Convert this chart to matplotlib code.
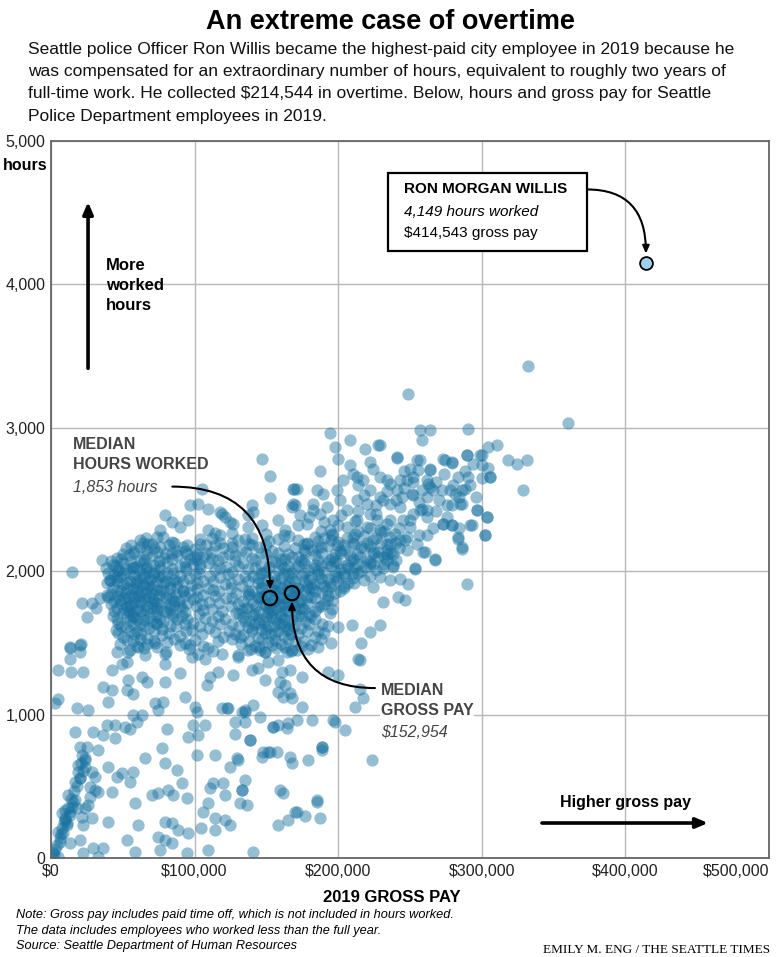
import numpy as np
import matplotlib
matplotlib.use("Agg")
import matplotlib.pyplot as plt
from matplotlib.ticker import FuncFormatter

plt.rcParams['font.family'] = ['Liberation Sans', 'DejaVu Sans']

# points: (gross pay in $ thousands, hours worked)
sparse_low = [
    (13.2, 1461), (20.9, 1491), (20.2, 1438), (13.2, 1391), (5.1, 1310), (13.9, 1298), (22.5, 1298),
    (5.1, 1112), (2.8, 1078), (17.8, 1043), (26.0, 1031), (36.4, 1194), (42.2, 1171), (39.9, 1089),
    (52.6, 1171), (53.8, 1240), (57.3, 1147), (63.1, 1263), (66.6, 1229), (42.2, 1310), (45.7, 1438),
    (52.6, 1368), (60.8, 1473), (65.4, 1414), (72.4, 1496), (79.3, 1426), (79.3, 1356), (89.8, 1287),
    (79.3, 1229), (93.2, 1124), (78.2, 1089), (72.4, 1078), (74.7, 1031), (100.2, 1054), (101.4, 1020),
    (93.2, 1500), (102.5, 1426), (109.5, 1461), (118.8, 1426), (130.4, 1414), (110.6, 1263), (116.4, 1298),
    (126.9, 1275), (108.3, 1205), (118.8, 1043), (123.4, 1043), (132.7, 1020), (97.9, 1403), (107.2, 1391),
    (53.8, 1438), (49.2, 1356),
    (16.7, 880), (29.4, 880), (36.4, 857), (44.5, 834), (38.7, 927), (44.5, 927), (51.5, 915), (57.3, 996),
    (59.6, 950), (55.0, 903), (63.1, 996), (32.9, 752), (20.2, 776), (24.8, 776), (21.3, 718), (23.6, 683),
    (19.0, 648), (23.6, 636), (20.2, 555), (28.3, 601), (30.6, 567), (39.9, 636), (45.7, 567), (49.2, 590),
    (57.3, 601), (55.0, 532), (30.6, 474), (32.9, 462), (42.2, 462), (27.1, 497), (27.1, 427), (12.0, 439),
    (16.7, 404), (13.2, 323), (9.7, 265), (10.9, 241), (8.6, 172), (5.1, 183), (6.2, 114), (1.6, 44),
    (5.1, 9), (13.2, 102), (20.2, 125), (21.3, 288), (28.3, 276), (22.5, 230), (39.9, 253), (60.8, 230),
    (52.6, 125), (58.4, 44), (29.4, 67), (36.4, 67), (22.5, 32), (32.9, 9), (65.4, 694), (77.0, 764),
    (79.3, 660), (80.5, 903), (87.4, 613), (90.9, 520), (81.6, 474), (70.0, 439), (74.7, 450), (85.1, 439),
    (94.4, 416), (58.4, 381), (79.3, 253), (84.0, 241), (74.7, 148), (79.3, 125), (84.0, 102), (75.8, 55),
    (88.6, 195), (95.6, 172), (94.4, 32), (101.4, 718), (95.6, 845), (102.5, 857), (107.2, 927), (99.0, 927),
    (114.1, 718), (113.0, 520), (110.6, 485), (119.9, 520), (121.1, 439), (106.0, 323), (109.5, 381),
    (114.1, 276), (121.1, 265), (124.6, 230), (114.1, 195), (104.8, 207), (109.5, 55), (128.1, 868),
    (124.6, 636), (129.2, 694), (132.7, 474), (131.5, 381), (135.0, 1031), (135.0, 950), (135.0, 543),
    (23.6, 346), (17.8, 346), (26.0, 369), (14.4, 357), (9.7, 334), (7.4, 311),
    (3, 60), (6, 140), (8, 210), (10, 280), (12, 350), (14, 410), (16, 470), (17, 530), (19, 600),
    (11, 230), (13, 300), (15, 390), (18, 500), (7, 170), (4, 90), (9, 250), (22, 610), (20, 560),
    (24, 700), (21, 660), (1, 15), (2, 30),
]

sparse_mid = [
    (131.6, 1543), (137.4, 1450), (130.4, 1403), (145.5, 1450), (149.0, 1438), (151.3, 1368), (158.3, 1380),
    (164.1, 1438), (167.6, 1450), (171.0, 1450), (139.7, 1310), (144.3, 1322), (149.0, 1240), (160.6, 1299),
    (166.4, 1310), (174.5, 1264), (159.4, 1229), (162.9, 1206), (166.4, 1148), (167.6, 1113), (158.3, 1159),
    (161.8, 1124), (140.9, 1066), (135.1, 1020), (145.5, 985), (128.1, 950), (154.8, 915), (158.3, 927),
    (165.2, 939), (164.1, 904), (171.0, 962), (181.5, 962), (174.5, 1055), (197.7, 950), (204.7, 892),
    (193.1, 1299), (200.0, 1275), (211.7, 1055), (217.5, 1113), (215.1, 1182), (215.1, 1380), (214.0, 1391),
    (215.8, 1496), (209.3, 1624), (222.1, 1577), (229.1, 1624), (138.5, 822), (147.8, 741), (146.7, 706),
    (151.3, 741), (157.1, 741), (166.4, 706), (167.6, 660), (179.2, 683), (188.4, 776), (188.4, 753),
    (223.3, 683), (130.4, 683), (132.7, 474), (136.2, 369), (159.4, 474), (161.8, 451), (185.0, 404),
    (169.9, 323), (165.2, 265), (158.3, 230), (176.8, 293), (187.3, 276), (140.9, 44), (171, 321),
    (185, 390), (152.5, 739), (188.7, 774), (154.6, 913), (196.4, 962), (138.6, 822), (122.6, 1045),
]

fringe = [
    (14.6, 1993), (35.5, 2077), (21.6, 1777), (28.6, 1777), (34, 1812), (25, 1679), (13.2, 1470),
    (20.2, 1484), (46.7, 2007), (57, 2021), (41, 1937), (46, 1958), (38.8, 1833), (31, 1740),
    (62, 2169), (67.8, 2193), (75.9, 2286), (79.4, 2390), (84, 2344), (89.8, 2309), (95.6, 2355),
    (96.8, 2460), (102.6, 2472), (109.6, 2437), (117.7, 2413), (121.2, 2379), (124.7, 2344), (109.6, 2286),
    (114.2, 2263), (125.8, 2263), (135.1, 2228), (137.4, 2309), (146.7, 2321), (152.5, 2507), (139.8, 2460),
    (140.9, 2413), (158.3, 2355), (163, 2286), (169.9, 2460), (171.1, 2576), (104.9, 2576), (146.7, 2785),
    (152.5, 2662), (168.7, 2576), (167.6, 2448), (137.4, 2390), (118.9, 2401), (127, 2332),
]

core = [
    (62, 2215), (70, 2190), (84, 2205), (95, 2185), (112, 2230), (126, 2195), (152, 2210), (166, 2245),
    (178, 2190), (190, 2230), (200, 2205), (212, 2260), (224, 2215), (236, 2240),
    (52, 2160), (58, 2130), (66, 2150), (76, 2170), (88, 2140), (100, 2155), (108, 2125), (120, 2160),
    (132, 2140), (145, 2170), (158, 2130), (170, 2165), (182, 2145), (193, 2175), (205, 2150), (216, 2170),
    (228, 2135), (242, 2160),
    (46, 2090), (54, 2110), (62, 2080), (70, 2105), (79, 2095), (88, 2115), (97, 2085), (106, 2100),
    (116, 2075), (128, 2110), (140, 2090), (150, 2120), (160, 2085), (172, 2100), (184, 2115), (196, 2090),
    (208, 2110), (220, 2080), (232, 2100),
    (43, 2040), (50, 2060), (57, 2030), (64, 2055), (72, 2045), (81, 2065), (90, 2035), (99, 2050),
    (110, 2060), (122, 2030), (134, 2055), (146, 2040), (156, 2065), (165, 2035), (176, 2055), (188, 2045),
    (200, 2060), (211, 2030), (224, 2050), (238, 2040),
    (40, 1990), (47, 2010), (54, 1985), (61, 2005), (68, 1995), (76, 2015), (85, 1990), (94, 2005),
    (103, 1985), (114, 2010), (126, 1995), (137, 2015), (148, 1990), (158, 2005), (168, 1985), (179, 2010),
    (190, 1995), (202, 2015), (214, 1990), (226, 2005),
    (41, 1940), (48, 1960), (55, 1935), (62, 1955), (69, 1945), (77, 1965), (86, 1940), (96, 1955),
    (106, 1935), (118, 1960), (130, 1945), (141, 1965), (151, 1940), (160, 1955), (170, 1935), (181, 1960),
    (193, 1945), (205, 1965), (218, 1940),
    (43, 1890), (50, 1910), (57, 1885), (64, 1905), (71, 1895), (79, 1915), (88, 1890), (98, 1905),
    (109, 1885), (121, 1910), (133, 1895), (144, 1915), (154, 1890), (163, 1905), (172, 1885), (183, 1910),
    (195, 1895), (207, 1915),
    (42, 1840), (49, 1860), (56, 1835), (63, 1855), (70, 1845), (78, 1865), (87, 1840), (96, 1855),
    (106, 1835), (117, 1860), (129, 1845), (140, 1865), (150, 1840), (158, 1855), (167, 1835), (177, 1860),
    (189, 1845), (201, 1865),
    (44, 1790), (51, 1810), (58, 1785), (65, 1805), (72, 1795), (80, 1815), (89, 1790), (99, 1805),
    (110, 1785), (122, 1810), (134, 1795), (145, 1815), (155, 1790), (164, 1805), (173, 1785), (184, 1810),
    (196, 1795),
    (46, 1740), (53, 1760), (60, 1735), (67, 1755), (74, 1745), (82, 1765), (91, 1740), (101, 1755),
    (112, 1735), (125, 1760), (137, 1745), (148, 1765), (157, 1740), (166, 1755), (176, 1735), (188, 1760),
    (43, 1690), (50, 1710), (57, 1685), (65, 1705), (73, 1695), (81, 1715), (91, 1690), (103, 1705),
    (116, 1685), (129, 1710), (141, 1695), (151, 1715), (160, 1690), (170, 1705), (181, 1685), (194, 1710),
    (47, 1640), (55, 1660), (62, 1635), (70, 1655), (78, 1645), (88, 1665), (99, 1640), (112, 1655),
    (126, 1635), (138, 1660), (148, 1645), (157, 1665), (166, 1640), (177, 1655), (189, 1635),
    (45, 1590), (52, 1610), (60, 1585), (68, 1605), (77, 1595), (87, 1615), (98, 1590), (110, 1605),
    (124, 1585), (137, 1610), (146, 1595), (155, 1615), (164, 1590), (174, 1605), (186, 1585), (200, 1610),
    (50, 1540), (58, 1560), (67, 1535), (77, 1555), (90, 1545), (105, 1565), (120, 1540), (134, 1555),
    (144, 1535), (153, 1560), (162, 1545), (172, 1565), (184, 1540),
    (48, 1495), (57, 1510), (67, 1490), (81, 1505), (97, 1485), (116, 1510), (132, 1495), (142, 1480),
    (151, 1505), (160, 1490), (170, 1510), (181, 1485), (195, 1500),
    (55, 1450), (65, 1465), (80, 1440), (96, 1455), (113, 1445), (139, 1460), (149, 1440), (157, 1465),
    (167, 1445), (179, 1460),
    # darker patches
    (58, 1820), (62, 1790), (66, 1850), (70, 1815), (74, 1780), (60, 1880), (68, 1900), (76, 1870),
    (82, 1840), (55, 1760), (63, 1725), (71, 1745), (79, 1720), (86, 1790), (57, 1680), (65, 1660),
    (73, 1640), (84, 1700), (90, 1760), (52, 1845), (64, 1960), (72, 1985), (80, 1935), (88, 1925),
    (59, 1920), (67, 2030), (75, 1960), (92, 1860), (48, 1800), (54, 1720),
    (148, 1830), (155, 1800), (162, 1770), (168, 1820), (152, 1740), (160, 1700), (170, 1760), (146, 1880),
    (156, 1860), (164, 1900), (172, 1880), (150, 1680), (158, 1640), (166, 1600), (174, 1690), (178, 1820),
    (180, 1940), (186, 2000), (192, 2060), (198, 2120), (204, 2180), (210, 2240), (185, 2160), (195, 2220),
    (206, 2040), (215, 2100), (220, 2200), (190, 1900), (200, 1960), (176, 2080), (182, 1880), (143, 1760),
    (138, 1840), (162, 1980), (170, 2020), (178, 2200), (188, 2280), (200, 2320), (212, 2350), (222, 2300),
]

core_fill = [
    (66, 2230), (78, 2240), (104, 2225), (118, 2250), (140, 2235), (158, 2225), (172, 2215), (184, 2240),
    (196, 2255), (206, 2230), (218, 2245), (230, 2270),
    (56, 2180), (64, 2195), (72, 2165), (82, 2185), (92, 2170), (104, 2190), (114, 2180), (126, 2170),
    (138, 2190), (150, 2180), (162, 2175), (176, 2190), (188, 2170), (199, 2185), (210, 2195), (222, 2175),
    (234, 2190),
    (50, 2120), (58, 2140), (66, 2115), (74, 2135), (84, 2125), (93, 2140), (102, 2120), (112, 2135),
    (124, 2120), (136, 2135), (146, 2125), (154, 2140), (165, 2120), (177, 2135), (189, 2125), (201, 2140),
    (213, 2120), (225, 2135), (236, 2125),
    (42, 2070), (49, 2085), (56, 2065), (65, 2080), (75, 2070), (84, 2085), (93, 2065), (102, 2075),
    (112, 2085), (128, 2070), (142, 2080), (153, 2070), (163, 2085), (174, 2070), (186, 2080), (198, 2070),
    (210, 2085), (222, 2065), (234, 2075),
    (38, 2020), (45, 2035), (52, 2015), (59, 2030), (66, 2020), (75, 2035), (84, 2015), (93, 2030),
    (104, 2025), (118, 2020), (130, 2035), (142, 2020), (152, 2030), (162, 2020), (172, 2035), (183, 2020),
    (195, 2035), (207, 2020), (219, 2030), (231, 2020),
    (44, 1975), (51, 1985), (58, 1965), (65, 1980), (72, 1970), (81, 1985), (90, 1965), (100, 1980),
    (111, 1970), (123, 1980), (135, 1970), (146, 1985), (155, 1970), (165, 1980), (175, 1965), (186, 1980),
    (198, 1970), (210, 1985), (222, 1970),
    (39, 1920), (46, 1930), (53, 1915), (60, 1930), (67, 1920), (74, 1935), (83, 1920), (92, 1930),
    (102, 1915), (113, 1930), (125, 1920), (137, 1930), (147, 1915), (156, 1930), (166, 1920), (176, 1935),
    (187, 1920), (199, 1930), (211, 1920),
    (46, 1870), (53, 1880), (60, 1865), (67, 1880), (74, 1870), (83, 1885), (92, 1865), (102, 1875),
    (113, 1870), (125, 1880), (137, 1865), (147, 1880), (155, 1870), (161, 1885), (170, 1865), (180, 1880),
    (192, 1870), (204, 1880),
    (40, 1820), (47, 1830), (54, 1815), (61, 1830), (68, 1820), (75, 1835), (84, 1815), (93, 1830),
    (102, 1820), (114, 1830), (126, 1815), (137, 1830), (146, 1820), (153, 1835), (162, 1815), (171, 1830),
    (181, 1820), (193, 1830),
    (42, 1770), (49, 1780), (56, 1765), (63, 1780), (70, 1770), (77, 1785), (86, 1765), (95, 1775),
    (105, 1770), (117, 1780), (130, 1770), (141, 1780), (150, 1765), (159, 1780), (168, 1770), (178, 1780),
    (190, 1770),
    (44, 1720), (51, 1735), (58, 1715), (66, 1730), (74, 1720), (83, 1735), (93, 1715), (106, 1730),
    (119, 1720), (133, 1730), (145, 1715), (154, 1730), (163, 1720), (173, 1735), (184, 1720), (196, 1735),
    (46, 1670), (53, 1685), (60, 1665), (68, 1680), (76, 1670), (85, 1685), (95, 1665), (107, 1675),
    (121, 1670), (134, 1680), (145, 1665), (153, 1680), (162, 1670), (172, 1685), (184, 1670),
    (49, 1620), (57, 1635), (65, 1615), (74, 1630), (83, 1620), (93, 1635), (104, 1615), (118, 1630),
    (131, 1620), (142, 1635), (151, 1620), (160, 1630), (169, 1615), (180, 1630), (193, 1620),
    (47, 1570), (55, 1585), (63, 1565), (72, 1580), (82, 1570), (94, 1580), (114, 1575), (128, 1565),
    (140, 1580), (149, 1570), (158, 1585), (167, 1565), (178, 1580), (190, 1570),
    (53, 1520), (62, 1530), (72, 1515), (86, 1530), (100, 1520), (126, 1530), (138, 1515), (147, 1530),
    (156, 1520), (165, 1530), (176, 1515), (188, 1525),
    (60, 1480), (74, 1470), (90, 1485), (106, 1475), (145, 1470), (154, 1485), (163, 1470), (174, 1480),
    (186, 1470),
]

right_dense = [
    (150, 1600), (156, 1560), (162, 1620), (168, 1660), (145, 1640), (140, 1600), (135, 1650), (131, 1700),
    (136, 1740), (142, 1700), (153, 1700), (159, 1760), (165, 1720), (175, 1740), (180, 1700), (186, 1750),
    (192, 1800), (198, 1850), (204, 1900), (210, 1950), (216, 2000), (222, 2050), (228, 2100), (234, 2150),
    (240, 2200), (218, 2160), (226, 2230), (232, 2280), (214, 2280), (196, 2260), (186, 2210), (176, 2150),
    (168, 2100), (160, 2050), (150, 2000), (144, 1950), (156, 1920), (168, 1950), (176, 1990), (184, 2040),
    (194, 2080), (202, 2130), (212, 2190), (208, 2070), (198, 2000), (188, 1950), (178, 1900), (170, 1850),
    (160, 1820), (152, 1780), (144, 1820), (164, 1860), (174, 1800), (184, 1860), (194, 1920), (204, 1990),
    (214, 2050), (224, 2130), (230, 2200), (190, 2340), (202, 2390), (214, 2420), (226, 2400), (180, 2380),
    (172, 2320), (162, 2250), (150, 2260), (140, 2180), (130, 2220), (120, 2100), (118, 2200), (108, 2180),
    (100, 2100), (104, 2050), (95, 2120), (86, 2200), (80, 2130), (74, 2240),
]

upper_band = [
    (194.3, 2966), (197.8, 2866), (200.1, 2785), (208.2, 2918), (218.7, 2855), (228, 2878), (187.4, 2699),
    (169.2, 2576), (168.8, 2467), (182.7, 2471), (173.4, 2390), (201.3, 2495), (208.2, 2739), (212.9, 2657),
    (224.5, 2715), (240.7, 2792), (254.7, 2773), (255.8, 2704), (243, 2634), (233.8, 2634), (273.2, 2785),
    (279, 2762), (289.5, 2808), (298.8, 2808), (305.7, 2657), (303.4, 2379), (302.2, 2251), (289.5, 1909),
    (286, 2170), (283.7, 2239), (291.8, 2321), (296.4, 2425), (273.2, 2332), (279, 2321), (261.6, 2251),
    (259.3, 2135), (267.4, 2088), (253.5, 2019), (248.9, 1914), (243, 1949), (241.9, 1821), (246.5, 1798),
    (231.4, 1786), (261.6, 2425), (281.3, 2541), (286, 2564), (286, 2472), (275.5, 2460), (252.3, 2530),
    (332.4, 3428), (248.4, 3233), (360.2, 3034), (257, 2982), (263.9, 2982), (258.1, 2913), (290.6, 2994),
    (304.5, 2866), (310.3, 2878), (299.9, 2808), (299.9, 2739), (318.5, 2778), (324.3, 2746), (331.2, 2773),
    (305.7, 2657), (328.9, 2564), (289.4, 2808), (279, 2755), (274.4, 2778), (263.9, 2715), (240.7, 2797),
    (229.1, 2878), (257, 2773), (250, 2715), (283.6, 2657), (290.6, 2657), (288.3, 2576), (272, 2564),
    (279, 2460), (284.8, 2471), (296.4, 2425), (303.4, 2379), (273.2, 2332), (279, 2320), (292.9, 2320),
    (302.2, 2251), (283.6, 2228), (286, 2158), (267.4, 2081), (260.4, 2135), (253.5, 2018), (258.1, 2437),
    (263.9, 2588), (251.1, 2541), (243, 2448), (245.3, 2355), (246.5, 2216), (236.1, 2193), (238.4, 2123),
    (233.7, 2332), (231.4, 2495), (252.3, 2622), (262.8, 2611), (277.8, 2564),
    (236, 2355), (239.6, 2262), (243, 2216), (247.7, 2239), (250, 2309), (252.3, 2402), (254.7, 2193),
    (257, 2425), (229, 2286), (233.8, 2123), (238.4, 2030), (229, 1960), (236, 1937), (224.5, 1891),
    (210.6, 2681), (217.5, 2634), (222.2, 2565), (229, 2657), (236.1, 2611), (240.7, 2565), (247.7, 2634),
    (244.2, 2518), (229.1, 2518), (219.9, 2471), (212.9, 2495), (205.9, 2425), (222.2, 2402), (236.1, 2472),
    (261.6, 2634), (264, 2704), (266.3, 2565), (258.1, 2565), (252.3, 2657),
    (182.7, 2425), (187.4, 2402), (192, 2448), (196.6, 2355), (178, 2332), (189.7, 2541), (199, 2565),
    (203.6, 2634), (185, 2565), (194.3, 2286), (205.9, 2309), (212.9, 2355), (219.9, 2309), (226.8, 2355),
    (240, 2500), (246, 2580), (256, 2480), (262, 2520), (268, 2620), (274, 2680), (280, 2600), (288, 2700),
    (294, 2750), (270, 2500), (262, 2380), (250, 2360), (242, 2300), (268, 2420), (276, 2380), (284, 2520),
    (292, 2600), (300, 2650), (304, 2720), (296, 2520), (284, 2300), (266, 2300), (256, 2250), (248, 2150),
    (240, 2080), (232, 2050), (226, 2460), (218, 2530), (234, 2560), (246, 2700), (222, 2760), (214, 2600),
]

willis_pay, willis_hours = 414543, 4149
median_hours_marker = (152.5, 1812)
median_pay_marker = (167.8, 1847)

pay_ticks = [0, 100000, 200000, 300000, 400000, 500000]
hour_ticks = [0, 1000, 2000, 3000, 4000, 5000]

points = np.array(sparse_low + sparse_mid + fringe + core + core_fill + right_dense + upper_band)
pay = points[:, 0] * 1000
hours = points[:, 1]

fig = plt.figure(figsize=(7.8, 9.57), dpi=100)
ax = fig.add_axes([51 / 780, 99 / 957, 718 / 780, 717 / 957])

ax.scatter(pay, hours, s=78, color='#15709f', alpha=0.45, linewidths=0, zorder=2)

ax.set_xlim(0, 500000)
ax.set_ylim(0, 5000)
ax.set_xticks(pay_ticks)
ax.set_yticks(hour_ticks)
ax.xaxis.set_major_formatter(FuncFormatter(lambda v, p: '${:,.0f}'.format(v)))
ax.yaxis.set_major_formatter(FuncFormatter(lambda v, p: '{:,.0f}'.format(v)))
ax.tick_params(length=0, labelsize=11.5, colors='#222222', pad=4)
ax.get_xticklabels()[-1].set_horizontalalignment('right')
ax.grid(True, color='#b8b8b8', linewidth=1)
ax.set_axisbelow(True)
for s in ax.spines.values():
    s.set_color('#666666')
    s.set_linewidth(1.3)

# Willis
ax.scatter([willis_pay], [willis_hours], s=85, color='#9fd0ea', edgecolors='black', linewidths=1.3, zorder=4)
# median markers
ax.scatter([median_hours_marker[0] * 1000, median_pay_marker[0] * 1000],
           [median_hours_marker[1], median_pay_marker[1]],
           s=105, facecolors='none', edgecolors='black', linewidths=1.6, zorder=4)

# Willis box
ax.text(245800, 4662, 'RON MORGAN WILLIS', fontsize=11, fontweight='bold', va='center', zorder=6)
ax.text(245800, 4502, '4,149 hours worked', fontsize=11, style='italic', va='center', zorder=6)
ax.text(245800, 4355, '$414,543 gross pay', fontsize=11, va='center', zorder=6)
box = plt.Rectangle((234700, 4230), 138600, 550, facecolor='white', edgecolor='black', linewidth=1.6, zorder=5)
ax.add_patch(box)
ax.annotate('', xy=(414300, 4215), xytext=(373400, 4662),
            arrowprops=dict(arrowstyle='-|>,head_length=0.45,head_width=0.2', color='black', lw=1.5,
                            connectionstyle='angle3,angleA=0,angleB=90', shrinkA=0, shrinkB=0), zorder=6)

# median hours
ax.text(15300, 2815, 'MEDIAN\nHOURS WORKED', fontsize=11.5, fontweight='bold', color='#444444',
        va='center', linespacing=1.45, zorder=6)
ax.text(15300, 2585, '1,853 hours', fontsize=11.5, style='italic', color='#444444', va='center', zorder=6)
ax.annotate('', xy=(152500, 1870), xytext=(84500, 2590),
            arrowprops=dict(arrowstyle='-|>,head_length=0.45,head_width=0.2', color='black', lw=1.5,
                            connectionstyle='angle3,angleA=0,angleB=90', shrinkA=0, shrinkB=0), zorder=6)

# median pay
ax.text(229800, 1098, 'MEDIAN\nGROSS PAY', fontsize=11.5, fontweight='bold', color='#444444',
        va='center', linespacing=1.45, zorder=6,
        bbox=dict(facecolor='white', edgecolor='none', pad=0.5))
ax.text(229800, 878, '$152,954', fontsize=11.5, style='italic', color='#444444', va='center', zorder=6)
ax.annotate('', xy=(167800, 1790), xytext=(225600, 1185),
            arrowprops=dict(arrowstyle='-|>,head_length=0.45,head_width=0.2', color='black', lw=1.5,
                            connectionstyle='angle3,angleA=0,angleB=90', shrinkA=0, shrinkB=0), zorder=6)

# direction arrows
ax.annotate('', xy=(25800, 4575), xytext=(25800, 3415),
            arrowprops=dict(arrowstyle='-|>,head_length=0.7,head_width=0.3', color='black', lw=2.6,
                            shrinkA=0, shrinkB=0))
ax.text(38300, 3993, 'More\nworked\nhours', fontsize=12, fontweight='bold', va='center', linespacing=1.4)
ax.annotate('', xy=(457500, 244), xytext=(341900, 244),
            arrowprops=dict(arrowstyle='-|>,head_length=0.7,head_width=0.3', color='black', lw=2.6,
                            shrinkA=0, shrinkB=0))
ax.text(400400, 390, 'Higher gross pay', fontsize=11.5, fontweight='bold', ha='center', va='center')

# header and footer
fig.text(0.5, 1 - 22 / 957, 'An extreme case of overtime', fontsize=19.5, fontweight='bold',
         ha='center', va='center')
fig.text(28 / 780, 1 - 42 / 957,
         'Seattle police Officer Ron Willis became the highest-paid city employee in 2019 because he\n'
         'was compensated for an extraordinary number of hours, equivalent to roughly two years of\n'
         'full-time work. He collected $214,544 in overtime. Below, hours and gross pay for Seattle\n'
         'Police Department employees in 2019.',
         fontsize=12.5, va='top', ha='left', linespacing=1.6, color='#111111')
fig.text(47 / 780, 1 - 166 / 957, 'hours', fontsize=11.5, fontweight='bold', ha='right', va='center')
fig.text(392 / 780, 1 - 897 / 957, '2019 GROSS PAY', fontsize=12, fontweight='bold', ha='center', va='center')
fig.text(16 / 780, 1 - 909 / 957,
         'Note: Gross pay includes paid time off, which is not included in hours worked.\n'
         'The data includes employees who worked less than the full year.\n'
         'Source: Seattle Department of Human Resources',
         fontsize=9.2, style='italic', va='top', ha='left', linespacing=1.4)
fig.text(770 / 780, 1 - 950 / 957, 'EMILY M. ENG / THE SEATTLE TIMES', fontsize=9.5,
         family='Liberation Serif', ha='right', va='center')

fig.savefig('out.png', dpi=100)
